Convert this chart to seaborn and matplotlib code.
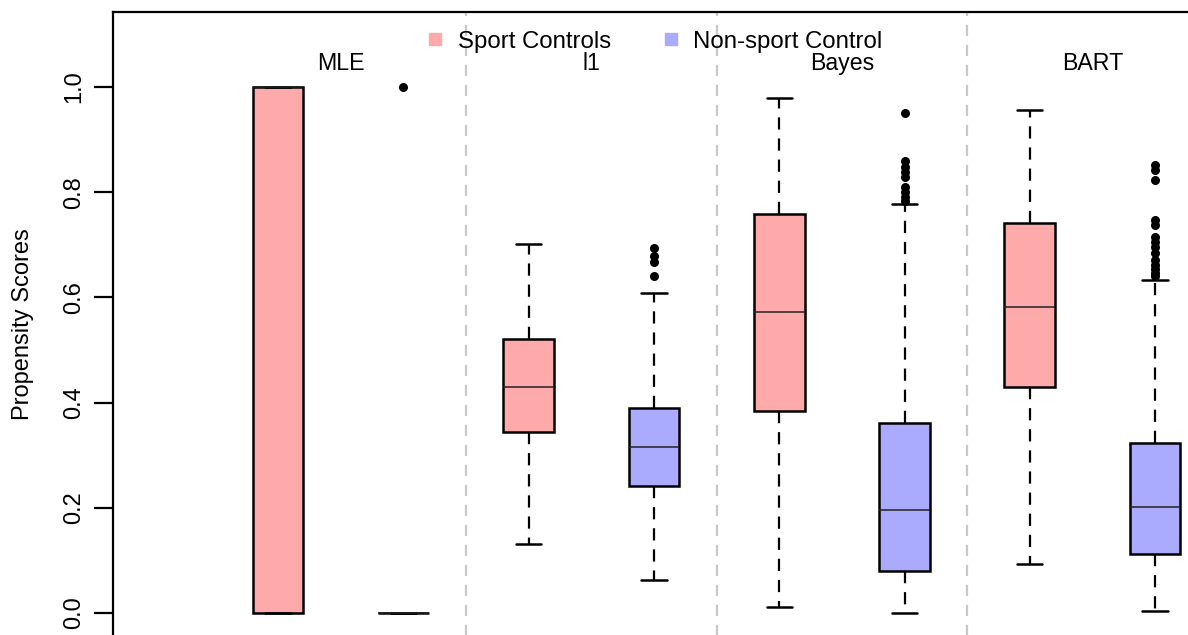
import numpy as np
import pandas as pd
import seaborn as sns
import matplotlib.pyplot as plt
from matplotlib.lines import Line2D

# methods and the two groups of controls
methods = ["MLE", "l1", "Bayes", "BART"]
groups = ["Sport Controls", "Non-sport Control"]
group_colors = ["#ffaaaa", "#aaaaff"]

# five number summaries (whisker low, q1, median, q3, whisker high)
sport_lo = [0.0, 0.131, 0.012, 0.094]
sport_q1 = [0.0, 0.345, 0.385, 0.430]
sport_med = [1.0, 0.430, 0.573, 0.582]
sport_q3 = [1.0, 0.520, 0.759, 0.741]
sport_hi = [1.0, 0.702, 0.979, 0.956]

nonsport_lo = [0.0, 0.062, 0.0, 0.004]
nonsport_q1 = [0.0, 0.242, 0.080, 0.112]
nonsport_med = [0.0, 0.315, 0.195, 0.201]
nonsport_q3 = [0.0, 0.389, 0.361, 0.324]
nonsport_hi = [0.0, 0.609, 0.778, 0.634]

# outliers (only the non-sport boxes have them)
out_mle = [1.0]
out_l1 = [0.694, 0.679, 0.667, 0.641]
out_bayes = [0.951, 0.860, 0.848, 0.838, 0.829, 0.809, 0.800, 0.790, 0.784]
out_bart = [0.851, 0.842, 0.823, 0.747, 0.738, 0.715, 0.706, 0.696, 0.684,
            0.672, 0.662, 0.654, 0.647, 0.641]

sport = [sport_lo, sport_q1, sport_med, sport_q3, sport_hi]
nonsport = [nonsport_lo, nonsport_q1, nonsport_med, nonsport_q3, nonsport_hi]
outs = [out_mle, out_l1, out_bayes, out_bart]

rows = []
out_rows = []
box_order = []
for i, m in enumerate(methods):
    for g, stats in zip(groups, [sport, nonsport]):
        name = m + " " + g
        box_order.append(name)
        for s in stats:
            rows.append({"box": name, "group": g, "score": s[i]})
    for v in outs[i]:
        out_rows.append({"box": m + " " + groups[1], "score": v})
df = pd.DataFrame(rows)
df_out = pd.DataFrame(out_rows)

sns.set_style("ticks")
plt.rcParams['font.family'] = ['Liberation Sans', 'DejaVu Sans']
plt.rcParams['text.color'] = 'black'
plt.rcParams['axes.labelcolor'] = 'black'
plt.rcParams['ytick.color'] = 'black'
plt.rcParams['ytick.labelcolor'] = 'black'

fig = plt.figure(figsize=(11.88, 6.35), dpi=100)
ax = fig.add_axes([113/1188, -2/635, 1.0161, 625/635])

sns.boxplot(data=df, x="box", y="score", hue="group", order=box_order,
            hue_order=groups, palette=group_colors, dodge=False, width=0.405,
            whis=(0, 100), saturation=1, linecolor="black", linewidth=1.8,
            legend=False, ax=ax,
            whiskerprops=dict(linestyle=(0, (5.5, 4)), linewidth=1.6),
            capprops=dict(linewidth=1.8),
            medianprops=dict(color="#222222", linewidth=1.1))
sns.stripplot(data=df_out, x="box", y="score", order=box_order, jitter=False,
              color="black", size=6.5, ax=ax)

# separators between methods and method names
for k in range(1, len(methods)):
    ax.axvline(2*k - 0.5, color="#c8c8c8", lw=1.6, ls=(0, (5, 4)), zorder=0)
for i, m in enumerate(methods):
    ax.text(2*i + 0.5, 1.033, m, ha="center", va="baseline", fontsize=16.7)

ax.set_xlim(-1.317, 8.317)
ax.set_ylim(-0.0456, 1.1426)
ax.set_xticks([])
ax.set_xlabel("")
ax.set_yticks(np.arange(0, 1.01, 0.2))
ax.set_yticklabels(["0.0", "0.2", "0.4", "0.6", "0.8", "1.0"], rotation=90, va="center")
ax.tick_params(axis="y", length=14, width=1.6, pad=6, labelsize=17)
ax.set_ylabel("Propensity Scores", fontsize=17)
ax.yaxis.set_label_coords(-0.0655, 0.5)
for sp in ax.spines.values():
    sp.set_linewidth(1.6)
    sp.set_color("black")

handles = [Line2D([], [], marker="s", ls="", color=c, markersize=8.5) for c in group_colors]
ax.legend(handles, groups, loc="center", bbox_to_anchor=(0.5507, 0.9345),
          bbox_transform=fig.transFigure, ncol=2, frameon=False, fontsize=17.3,
          handlelength=0.8, handletextpad=0.55, columnspacing=2.07)

plt.savefig("out.png", dpi=100)
